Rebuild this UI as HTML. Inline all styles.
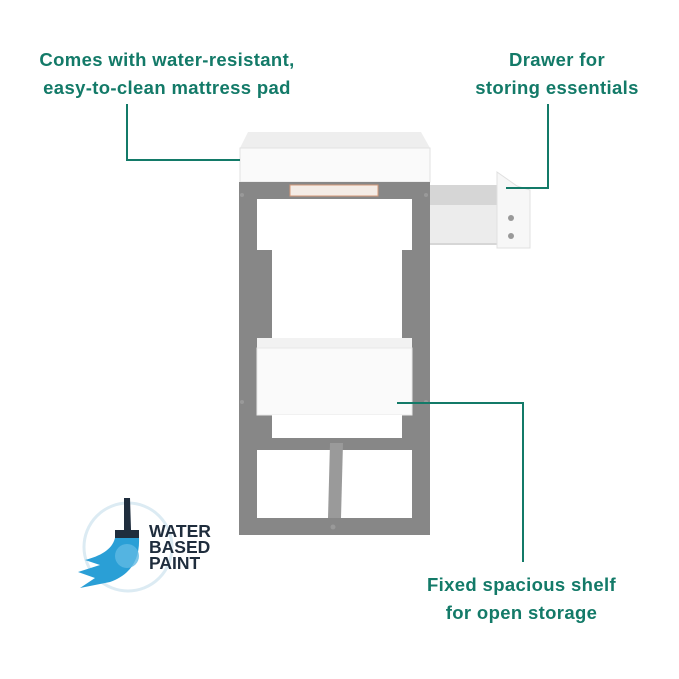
<!DOCTYPE html>
<html><head><style>
body{margin:0;width:679px;height:679px;background:#fff;position:relative;overflow:hidden;font-family:"Liberation Sans",sans-serif}
.t{position:absolute;color:#137a68;font-weight:bold;font-size:18.5px;letter-spacing:0.35px;text-align:center;line-height:28px;white-space:nowrap}
</style></head><body>
<div class="t" style="left:17px;top:46px;width:300px">Comes with water-resistant,<br>easy-to-clean mattress pad</div>
<div class="t" style="left:457px;top:46px;width:200px">Drawer for<br>storing essentials</div>
<div class="t" style="left:419px;top:571px;width:205px">Fixed spacious shelf<br>for open storage</div>
<svg width="679" height="679" style="position:absolute;left:0;top:0">
<!-- tray -->
<polygon points="248,132 421,132 430,148 240,148" fill="#eeeeee"/>
<rect x="240" y="148" width="190" height="34" fill="#fafafa" stroke="#e2e2e2"/>
<!-- frame -->
<rect x="239" y="182" width="191" height="353" fill="#878787"/>
<rect x="257" y="199" width="155" height="51" fill="#fff"/>
<rect x="272" y="250" width="130" height="88" fill="#fff"/>
<rect x="257" y="338" width="155" height="10" fill="#f2f2f2"/>
<rect x="257" y="348" width="155" height="67" fill="#fafafa" stroke="#e8e8e8"/>
<rect x="272" y="415" width="130" height="23" fill="#fff"/>
<rect x="257" y="450" width="155" height="68" fill="#fff"/>
<polygon points="330,443 343,443 341,518 328,518" fill="#9a9a9a"/>
<rect x="290" y="185" width="88" height="11" fill="#f4ece6" stroke="#d49a7a"/>
<!-- drawer -->
<rect x="430" y="185" width="80" height="60" fill="#d6d6d6"/>
<rect x="430" y="205" width="68" height="38" fill="#ececec"/>
<polygon points="497,172 517,186 530,190 530,248 497,248" fill="#f7f7f7" stroke="#e0e0e0"/>
<g fill="#999"><circle cx="511" cy="218" r="3"/><circle cx="511" cy="236" r="3"/><circle cx="242" cy="195" r="2"/><circle cx="426" cy="195" r="2"/><circle cx="333" cy="527" r="2.5"/><circle cx="242" cy="402" r="2"/><circle cx="426" cy="402" r="2"/></g>
<g fill="none" stroke="#137a68" stroke-width="2">
<polyline points="127,104 127,160 240,160"/>
<polyline points="548,104 548,188 506,188"/>
<polyline points="397,403 523,403 523,562"/>
</g>
<!-- logo -->
<circle cx="128" cy="547" r="44" fill="none" stroke="#dcebf3" stroke-width="3"/>
<path d="M124,498 L130,498 L131,530 L124,530 Z" fill="#1f2d3d"/>
<rect x="115" y="530" width="24" height="8" fill="#1f2d3d"/>
<path d="M115,538 L139,538 C140,560 130,575 110,582 L80,588 L95,578 L78,572 L100,565 L85,560 C100,556 112,550 115,538 Z" fill="#2a9fd6"/>
<circle cx="127" cy="556" r="12" fill="#5fb9e4" opacity=".8"/>
<g font-family="Liberation Sans" font-weight="bold" font-size="17.5" fill="#1f2d3d">
<text x="149" y="537">WATER</text>
<text x="149" y="553">BASED</text>
<text x="149" y="569">PAINT</text>
</g>
</svg>
</body></html>
